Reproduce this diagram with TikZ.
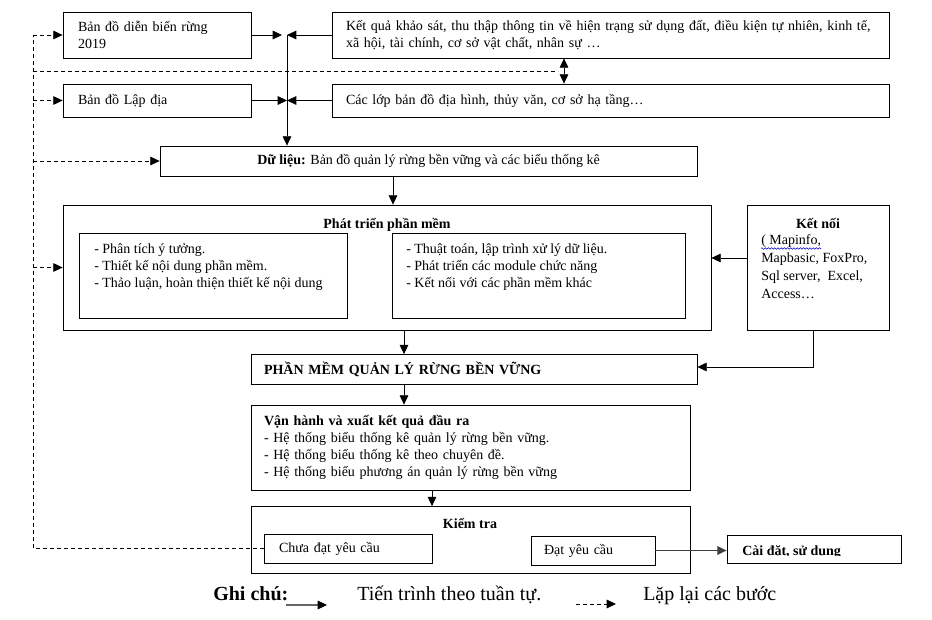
\documentclass[tikz,border=0pt]{standalone}
\usepackage{fontspec}
\setmainfont{Liberation Serif}
\usetikzlibrary{arrows.meta,decorations.pathmorphing}
\tikzset{
  tri/.tip={Triangle[length=7pt,width=6.5pt]},
  mainfont/.style={font=\fontsize{10.5}{12.75}\selectfont},
  box/.style={draw, line width=0.6pt, inner sep=0pt, rectangle, mainfont},
  txt/.style={inner sep=0pt, mainfont},
  btxt/.style={inner sep=0pt, font=\fontsize{10.5}{12.75}\selectfont\bfseries},
  arr/.style={-tri, line width=0.6pt},
  dsh/.style={line width=0.6pt, dash pattern=on 3pt off 2.25pt},
  darr/.style={dsh, -tri},
  legend/.style={inner sep=0pt, font=\fontsize{15}{17}\selectfont},
}
\begin{document}
\begin{tikzpicture}[x=0.75pt,y=-0.75pt]
\useasboundingbox (0,0) rectangle (932,620);

% top boxes
\node[box, minimum width=141pt, minimum height=34.5pt, text width=118.5pt, align=left] (b1) at (157,35) {Bản đồ diễn biến rừng\\2019};
\node[box, minimum width=141pt, minimum height=24.75pt, text width=118.5pt, align=left] (b2) at (157,100.5) {Bản đồ Lập địa};
\node[box, minimum width=417.75pt, minimum height=34.5pt, text width=396.75pt, align=left] (b3) at (610.5,35) {\mbox{Kết quả khảo sát, thu thập thông tin về hiện trạng sử dụng đất, điều kiện tự nhiên, kinh tế,}\\xã hội, tài chính, cơ sở vật chất, nhân sự …};
\node[box, minimum width=417.75pt, minimum height=24.75pt, text width=396.75pt, align=left] (b4) at (610.5,100.5) {Các lớp bản đồ địa hình, thủy văn, cơ sở hạ tầng…};

% data
\node[box, minimum width=402.75pt, minimum height=22.5pt] (d) at (428.5,161) {\textbf{Dữ liệu:} Bản đồ quản lý rừng bền vững và các biểu thống kê};

% software development
\node[box, minimum width=486pt, minimum height=93.75pt] (p) at (387,267.5) {};
\node[btxt, anchor=base] (pt) at (387,229) {Phát triển phần mềm};
\node[box, minimum width=201pt, minimum height=63.75pt] (l) at (213,275.5) {};
\node[txt, anchor=base west] (lt) at (94,254) {\parbox[t]{195pt}{\raggedright - Phân tích ý tưởng.\\- Thiết kế nội dung phần mềm.\\- Thảo luận, hoàn thiện thiết kế nội dung}};
\node[box, minimum width=219.75pt, minimum height=63.75pt] (r) at (538.5,275.5) {};
\node[txt, anchor=base west] (rt) at (406,254) {\parbox[t]{205pt}{\raggedright - Thuật toán, lập trình xử lý dữ liệu.\\- Phát triển các module chức năng\\- Kết nối với các phần mềm khác}};

% connection box
\node[box, minimum width=106.5pt, minimum height=93.75pt] (k) at (818,267.5) {};
\node[btxt, anchor=base] (kt1) at (818,229) {Kết nối};
\node[txt, anchor=base west] (kb) at (761,245) {\parbox[t]{100pt}{\raggedright\baselineskip=13.5pt ( Mapinfo,\\Mapbasic, FoxPro,\\Sql server,\ \ Excel,\\Access…}};
\draw[blue!75!black, line width=0.4pt, decorate, decoration={snake, amplitude=0.6pt, segment length=2.4pt}] (761,248.5) -- (821,248.5);

% software
\node[box, minimum width=334.5pt, minimum height=22.5pt, text width=315pt, align=left, font=\fontsize{10.5}{12.75}\selectfont\bfseries] (ph) at (474,369.5) {PHẦN MỀM QUẢN LÝ RỪNG BỀN VỮNG};
\node[box, minimum width=329.25pt, minimum height=63.75pt, text width=309.75pt, align=left] (v) at (470.5,447.5) {\textbf{Vận hành và xuất kết quả đầu ra}\\- Hệ thống biểu thống kê quản lý rừng bền vững.\\- Hệ thống biểu thống kê theo chuyên đề.\\- Hệ thống biểu phương án quản lý rừng bền vững};

% check
\node[box, minimum width=329.25pt, minimum height=49.9pt] (kt) at (470.5,539.75) {};
\node[btxt, anchor=base] (ktt) at (470,528) {Kiểm tra};
\node[box, minimum width=126pt, minimum height=21.75pt, text width=103.5pt, align=left] (c) at (348,548.5) {Chưa đạt yêu cầu};
\node[box, minimum width=93pt, minimum height=21.75pt, text width=73.5pt, align=left] (dy) at (593,550.5) {Đạt yêu cầu};
\node[box, minimum width=130.5pt, minimum height=21pt] (cd) at (814,549) {};
\begin{scope}
\clip (727,535) rectangle (901,555.5);
\node[btxt, anchor=base west] (cdt) at (742,555) {Cài đặt, sử dụng};
\end{scope}

% solid connectors
\coordinate (vx) at (287,0);
\coordinate (t1) at (282,35);
\draw[arr] (b1.east) -- (t1);
\draw[arr] (b3.west) -- (vx |- b3.west);
\draw[arr] (b2.east) -- (vx |- b2.east);
\draw[arr] (b4.west) -- (vx |- b4.west);
\draw[arr] (vx |- b1.east) -- (vx |- d.north);
\coordinate (x1) at (393,0);
\draw[arr] (x1 |- d.south) -- (x1 |- p.north);
\coordinate (ya) at (0,258);
\draw[arr] (k.west |- ya) -- (p.east |- ya);
\coordinate (kx) at (813,367);
\draw[arr] (kx |- k.south) -- (kx) -- (ph.east |- kx);
\coordinate (x2) at (404,0);
\draw[arr] (x2 |- p.south) -- (x2 |- ph.north);
\draw[arr] (x2 |- ph.south) -- (x2 |- v.north);
\coordinate (x3) at (432,0);
\draw[arr] (x3 |- v.south) -- (x3 |- kt.north);
\draw[-tri, line width=0.9pt, draw=black!75] (dy.east) -- (cd.west |- dy.east);

% double arrow between survey boxes
\coordinate (da) at (564,0);
\draw[tri-tri, line width=0.6pt] (da |- b3.south) -- (da |- b4.north);

% dashed feedback
\coordinate (dx) at (33,0);
\coordinate (dh) at (558,71);
\draw[dsh] (c.west) -- (dx |- c.west) -- (dx |- b1.west);
\draw[dsh] (dx |- dh) -- (dh);
\draw[darr] (dx |- b1.west) -- (b1.west);
\draw[darr] (dx |- b2.west) -- (b2.west);
\draw[darr] (dx |- d.west) -- (d.west);
\draw[darr] (dx |- p.west) -- (p.west);

% legend
\node[legend, font=\fontsize{15}{17}\selectfont\bfseries, anchor=base west] (gc) at (213,600) {Ghi chú:};
\coordinate (la1) at (286,605);
\coordinate (la2) at (327,605);
\draw[gray!80!black, line width=1.4pt] (la1) -- (320,605);
\draw[arr] (319,605) -- (la2);
\node[legend, anchor=base west] (lg1) at (357,600) {Tiến trình theo tuần tự.};
\coordinate (lb1) at (576,604);
\coordinate (lb2) at (616,604);
\draw[darr] (lb1) -- (lb2);
\node[legend, anchor=base west] (lg2) at (643,600) {Lặp lại các bước};
\end{tikzpicture}
\end{document}
